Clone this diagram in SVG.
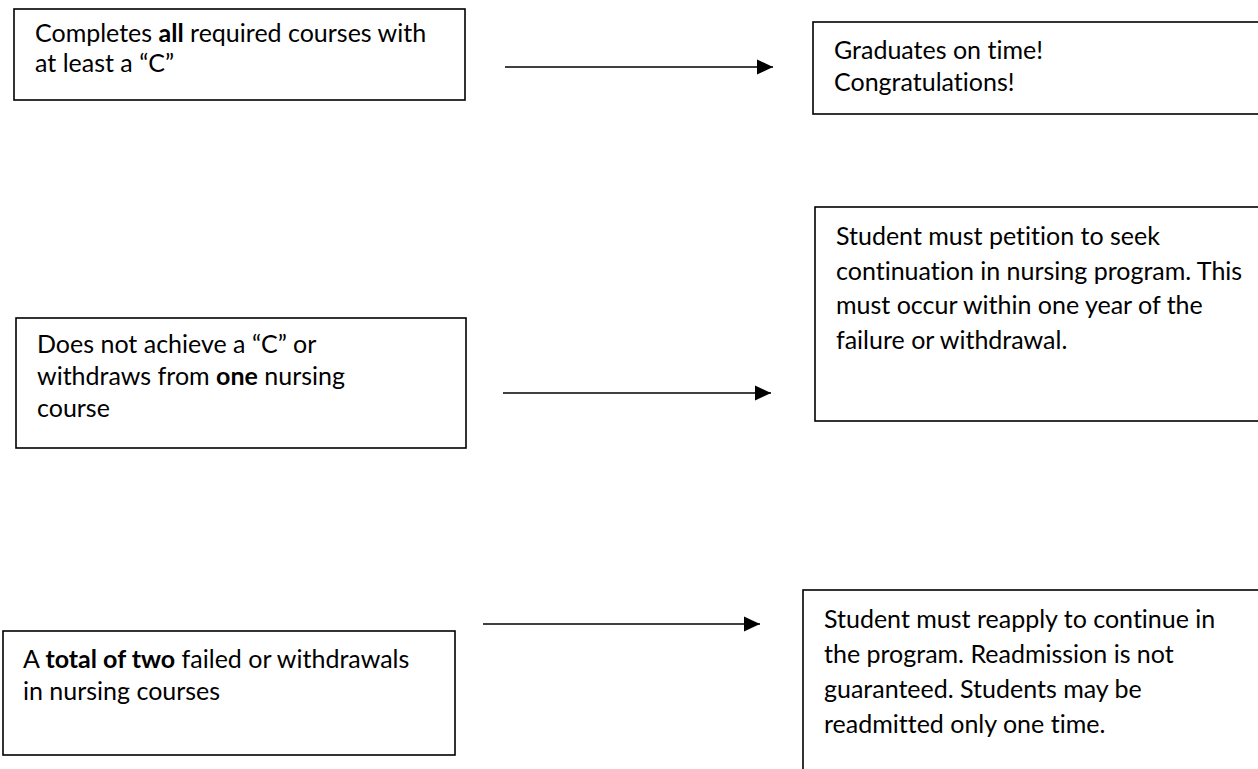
<svg xmlns="http://www.w3.org/2000/svg" width="1258" height="769" viewBox="0 0 1258 769">
<style>
.box{fill:#fff;stroke:#000;stroke-width:1.6}
.t{font-family:Lato,"Open Sans","Liberation Sans",sans-serif;font-size:25px;fill:#000;font-variant-ligatures:none;font-feature-settings:"liga" 0,"clig" 0}
.b{font-weight:bold}
.c{stroke:#000;stroke-width:1.6;fill:none}
</style>
<defs>
<marker id="ah" markerUnits="userSpaceOnUse" markerWidth="17" markerHeight="16" refX="16" refY="8" orient="auto">
<path d="M0,0.5 L16,8 L0,15.5 Z" fill="#000"/>
</marker>
</defs>
<rect width="1258" height="769" fill="#fff"/>
<g id="connectors">
<line class="c" x1="505" y1="67" x2="773" y2="67" marker-end="url(#ah)"/>
<line class="c" x1="503" y1="393" x2="771" y2="393" marker-end="url(#ah)"/>
<line class="c" x1="483" y1="624" x2="760" y2="624" marker-end="url(#ah)"/>
</g>
<g id="n1">
<rect class="box" x="14" y="9" width="451" height="91"/>
<text class="t" x="35" y="42">Completes <tspan class="b">all</tspan> required courses with</text>
<text class="t" x="35" y="72">at least a “C”</text>
</g>
<g id="n2">
<rect class="box" x="813" y="22" width="450" height="92"/>
<text class="t" x="834" y="59">Graduates on time!</text>
<text class="t" x="834" y="91">Congratulations!</text>
</g>
<g id="n3">
<rect class="box" x="815" y="207" width="448" height="214"/>
<text class="t" x="836" y="245">Student must petition to seek</text>
<text class="t" x="836" y="279.5">continuation in nursing program. This</text>
<text class="t" x="836" y="314">must occur within one year of the</text>
<text class="t" x="836" y="348.5">failure or withdrawal.</text>
</g>
<g id="n4">
<rect class="box" x="16" y="318" width="450" height="130"/>
<text class="t" x="37" y="353">Does not achieve a “C” or</text>
<text class="t" x="37" y="385">withdraws from <tspan class="b">one</tspan> nursing</text>
<text class="t" x="37" y="417">course</text>
</g>
<g id="n5">
<rect class="box" x="3" y="631" width="452" height="124"/>
<text class="t" x="23" y="668">A <tspan class="b">total of two</tspan> failed or withdrawals</text>
<text class="t" x="23" y="700">in nursing courses</text>
</g>
<g id="n6">
<rect class="box" x="803" y="590" width="460" height="185"/>
<text class="t" x="824" y="628">Student must reapply to continue in</text>
<text class="t" x="824" y="663">the program. Readmission is not</text>
<text class="t" x="824" y="698">guaranteed. Students may be</text>
<text class="t" x="824" y="733">readmitted only one time.</text>
</g>
</svg>
